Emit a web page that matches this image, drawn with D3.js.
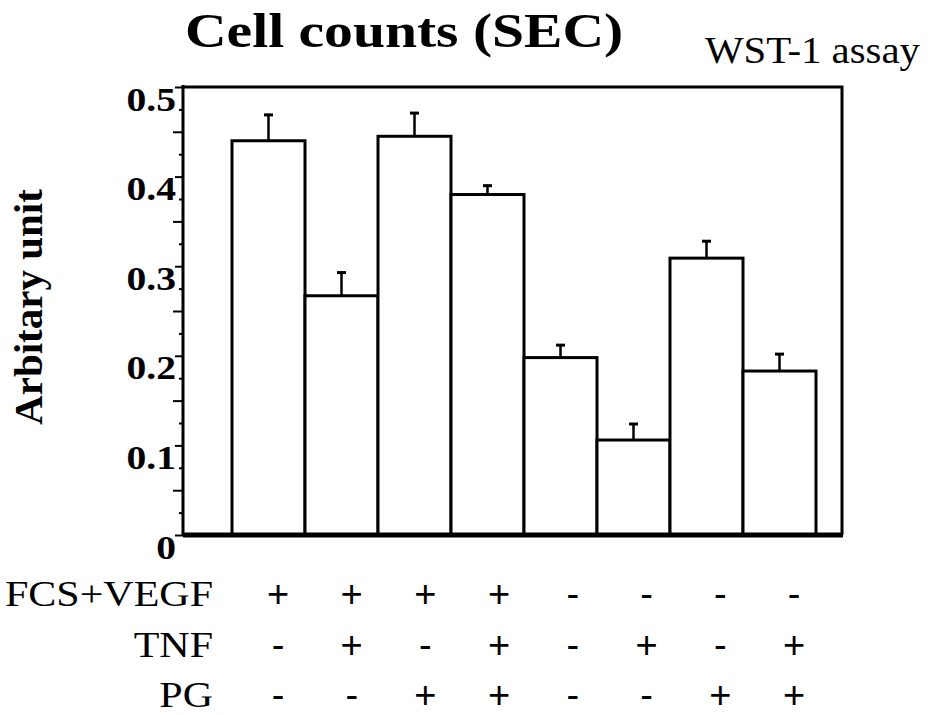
<!DOCTYPE html>
<html>
<head>
<meta charset="utf-8">
<script src="https://cdn.jsdelivr.net/npm/d3@7"></script>
<style>
  body { margin: 0; background: #fff; }
  svg { display: block; }
  .serif { font-family: "Liberation Serif", "Times New Roman", serif; }
</style>
</head>
<body>
<div id="chart"></div>
<script>
// bar groups (one per column of the +/- table)
var groups = ["g1", "g2", "g3", "g4", "g5", "g6", "g7", "g8"];
var values = [0.440, 0.267, 0.445, 0.380, 0.198, 0.106, 0.309, 0.183];
var errors = [0.030, 0.027, 0.027, 0.011, 0.015, 0.019, 0.020, 0.020];

var rowLabels = ["FCS+VEGF", "TNF", "PG"];
var fcsVegf = ["+", "+", "+", "+", "-", "-", "-", "-"];
var tnf     = ["-", "+", "-", "+", "-", "+", "-", "+"];
var pg      = ["-", "-", "+", "+", "-", "-", "+", "+"];

var majorTicks = [0, 0.1, 0.2, 0.3, 0.4, 0.5];
var midTicks = [0.05, 0.15, 0.25, 0.35, 0.45];
var minorTicks = [0.025, 0.075, 0.125, 0.175, 0.225, 0.275, 0.325, 0.375, 0.425, 0.475];

var w = 930, h = 715,
    p = {"top": 87, "right": 842, "left": 183, "bot": 535};
var sx = 1.2; // the printed figure's lettering is a bit wide

var svg = d3.select("#chart").append("svg")
  .attr("width", w)
  .attr("height", h)

var y = d3.scaleLinear()
  .domain([0, 0.5])
  .range([p.bot, p.top])

var x = d3.scaleBand()
  .domain(groups)
  .range([232, 816])

var col = d3.scalePoint()
  .domain(groups)
  .range([278, 794])

// frame (top + right)
svg.append("path")
  .attr("d", "M" + p.left + "," + p.top + "H" + p.right + "V" + p.bot)
  .attr("fill", "none")
  .attr("stroke", "#000")
  .attr("stroke-width", 3)

// bars
svg.selectAll(".bar")
  .data(values)
  .enter()
    .append("rect")
      .attr("class", "bar")
      .attr("x", function(d, i){ return x(groups[i]) })
      .attr("y", function(d){ return y(d) })
      .attr("width", x.bandwidth())
      .attr("height", function(d){ return y(0) - y(d) })
      .attr("fill", "#fff")
      .attr("stroke", "#000")
      .attr("stroke-width", 3)

// error bars (upper only)
var err = svg.selectAll(".err")
  .data(values)
  .enter()
    .append("g")
      .attr("class", "err")
      .attr("transform", function(d, i){ return "translate(" + (x(groups[i]) + x.bandwidth()/2) + ",0)" })

err.append("line")
  .attr("y1", function(d){ return y(d) })
  .attr("y2", function(d, i){ return y(d + errors[i]) })
  .attr("stroke", "#000")
  .attr("stroke-width", 2.5)

err.append("line")
  .attr("x1", -4.5).attr("x2", 4.5)
  .attr("y1", function(d, i){ return y(d + errors[i]) + 1 })
  .attr("y2", function(d, i){ return y(d + errors[i]) + 1 })
  .attr("stroke", "#000")
  .attr("stroke-width", 3)

// y axis: minor, mid and labelled ticks
svg.append("g")
  .attr("transform", "translate(" + p.left + ",0)")
  .call(d3.axisLeft(y).tickValues(minorTicks).tickSize(4).tickFormat(""))
  .call(function(g){ g.select(".domain").remove() })
  .selectAll("line").attr("stroke-width", 2)

svg.append("g")
  .attr("transform", "translate(" + p.left + ",0)")
  .call(d3.axisLeft(y).tickValues(midTicks).tickSize(10).tickFormat(""))
  .call(function(g){ g.select(".domain").remove() })
  .selectAll("line").attr("stroke-width", 2)

var yAxis = svg.append("g")
  .attr("transform", "translate(" + p.left + ",0)")
  .call(d3.axisLeft(y).tickValues(majorTicks).tickSize(8).tickPadding(2)
    .tickFormat(function(d){ return d === 0 ? "0" : d3.format(".1f")(d) }))

yAxis.select(".domain").remove()
yAxis.selectAll("line").attr("stroke-width", 2)
yAxis.selectAll("text")
  .attr("class", "serif")
  .attr("font-size", 33)
  .attr("font-weight", "bold")
  .attr("fill", "#000")
  .attr("x", -7 / sx)
  .attr("dy", "0.7em")
  .attr("transform", "scale(" + sx + ",1)")

// left axis line and base line
svg.append("line")
  .attr("x1", p.left).attr("x2", p.left)
  .attr("y1", p.top - 2).attr("y2", p.bot)
  .attr("stroke", "#000")
  .attr("stroke-width", 3)

svg.append("line")
  .attr("x1", p.left).attr("x2", p.right + 1)
  .attr("y1", p.bot).attr("y2", p.bot)
  .attr("stroke", "#000")
  .attr("stroke-width", 5)

// titles
svg.append("text")
  .attr("class", "serif")
  .attr("transform", "translate(185,47) scale(" + sx + ",1)")
  .attr("font-size", 48)
  .attr("font-weight", "bold")
  .text("Cell counts (SEC)")

svg.append("text")
  .attr("class", "serif")
  .attr("x", 705)
  .attr("y", 63)
  .attr("font-size", 38)
  .attr("textLength", 215)
  .attr("lengthAdjust", "spacingAndGlyphs")
  .text("WST-1 assay")

svg.append("text")
  .attr("class", "serif")
  .attr("transform", "translate(42,307) rotate(-90)")
  .style("text-anchor", "middle")
  .attr("font-size", 41)
  .attr("font-weight", "bold")
  .text("Arbitary unit")

// condition table
var rows = [fcsVegf, tnf, pg];
var rowY = [606, 657, 707];

rows.forEach(function(row, r){
  svg.append("text")
    .attr("class", "serif")
    .attr("transform", "translate(213," + rowY[r] + ") scale(" + sx + ",1)")
    .style("text-anchor", "end")
    .attr("font-size", 35)
    .text(rowLabels[r])

  svg.selectAll(".sign" + r)
    .data(row)
    .enter()
      .append("text")
        .attr("class", "sign" + r)
        .attr("x", function(d, i){ return col(groups[i]) })
        .attr("y", rowY[r] + 1)
        .style("text-anchor", "middle")
        .style("font-family", "'Liberation Sans', Arial, sans-serif")
        .attr("font-size", 38)
        .text(function(d){ return d })
})
</script>
</body>
</html>
